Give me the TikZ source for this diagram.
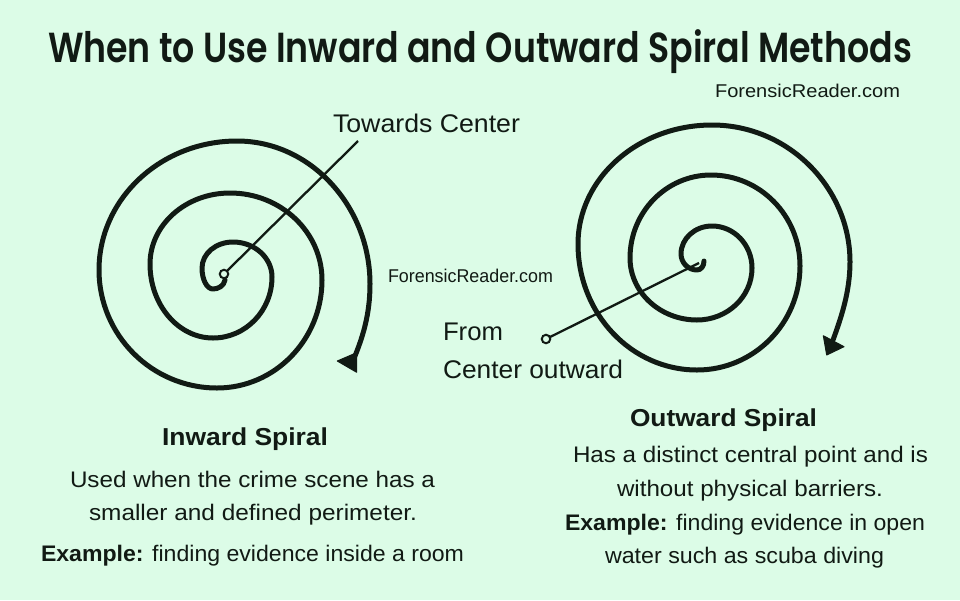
\documentclass[tikz,border=0pt]{standalone}
\usepackage{fontspec}
\usepackage{graphicx}
\setmainfont{Liberation Sans}
\newfontfamily\titlefont{Poppins SemiBold}
\definecolor{bg}{HTML}{DCFCE7}
\definecolor{ink}{HTML}{111A14}
\newcommand\wfit[2]{\resizebox{#1pt}{\height}{#2}}
\tikzset{
  txt/.style={inner sep=0pt, outer sep=0pt, anchor=base west, text=ink},
  body/.style={txt, font=\fontsize{22.5}{27}\selectfont},
  head/.style={txt, font=\bfseries\fontsize{24.5}{29}\selectfont},
  lab/.style={txt, font=\fontsize{25.5}{30}\selectfont},
  wmark/.style={txt, font=\fontsize{18.5}{22}\selectfont},
  spiralline/.style={draw=ink, line width=5pt, line cap=round, line join=round},
  pointer/.style={draw=ink, line width=2.3pt},
  ring/.style={circle, draw=ink, line width=2pt, fill=bg, minimum size=8.5pt, inner sep=0pt},
  tip/.style={fill=ink, draw=ink, line width=1pt, line join=round}
}
\begin{document}
\begin{tikzpicture}[x=1pt, y=-1pt]
\fill[bg] (0,0) rectangle (960,600);
\useasboundingbox (0,0) rectangle (960,600);

% title and watermarks
\node[txt, font=\titlefont\fontsize{42}{50}\selectfont] (title) at (48,62)
  {\wfit{864}{When to Use Inward and Outward Spiral Methods}};
\node[wmark] (wm1) at (715,97) {\wfit{185}{ForensicReader.com}};
\node[wmark] (wm2) at (388,282.3) {\wfit{165}{ForensicReader.com}};

% left spiral (inward)
\draw[spiralline] (225,280)
  .. controls +(-1,6) and +(5,0) .. (213,289)
  .. controls +(-6.1,0) and +(0,11.6) .. (202,268)
  .. controls +(0,-14.4) and +(-17.1,0) .. (233,242)
  .. controls +(21.5,0) and +(0,-19.3) .. (272,277)
  .. controls +(0,33.7) and +(32.6,0) .. (213,338)
  .. controls +(-34.8,0) and +(0,40.8) .. (150,264)
  .. controls +(0,-39.2) and +(-44.2,0) .. (230,193)
  .. controls +(50.8,0) and +(0,-48) .. (322,280)
  .. controls +(0,59.6) and +(58,0) .. (217,388)
  .. controls +(-65.1,0) and +(0,65.1) .. (99,270)
  .. controls +(0,-71.2) and +(-76.2,0) .. (237,141)
  .. controls +(73.4,0) and +(0,-77.8) .. (370,284)
  .. controls +(0,30) and +(8,-20) .. (355,356);
\fill[tip] (337.3,361) -- (356.7,352.7) -- (356.7,372.3) -- cycle;

% right spiral (outward)
\draw[spiralline] (704,261)
  .. controls +(0,5) and +(4,0) .. (697,270)
  .. controls +(-8.8,0) and +(0,8.8) .. (681,254)
  .. controls +(0,-15.5) and +(-17.1,0) .. (712,226)
  .. controls +(22.1,0) and +(0,-23.2) .. (752,268)
  .. controls +(0,28.7) and +(30.4,0) .. (697,320)
  .. controls +(-37,0) and +(0,34.2) .. (630,258)
  .. controls +(0,-45.8) and +(-44.7,0) .. (711,175)
  .. controls +(49.1,0) and +(0,-50.2) .. (800,266)
  .. controls +(0,57.4) and +(56.9,0) .. (697,370)
  .. controls +(-65.7,0) and +(0,69.6) .. (578,244)
  .. controls +(0,-65.7) and +(-74,0) .. (712,125)
  .. controls +(76.2,0) and +(0,-74.5) .. (850,262)
  .. controls +(0,30) and +(8,-22) .. (833,340);
\fill[tip] (823.3,335.7) -- (844,346.7) -- (826.7,355) -- cycle;

% labels
\node[lab] (towards) at (333,132) {\wfit{187}{Towards Center}};
\node[lab] (from) at (443,340.7) {\wfit{60}{From}};
\node[lab] (outw) at (443,378.3) {\wfit{180}{Center outward}};

% pointers
\coordinate (c1) at (224,274);
\coordinate (t1) at (358,141);
\draw[pointer] (c1) -- (t1);
\node[ring] (r1) at (c1) {};
\coordinate (c2) at (546,339);
\coordinate (t2) at (699,263);
\draw[pointer] (c2) -- (t2);
\node[ring] (r2) at (c2) {};

% left text
\node[head] (h1) at (162,445) {\wfit{166}{Inward Spiral}};
\node[body] (l1) at (70,487.3) {\wfit{365}{Used when the crime scene has a}};
\node[body] (l2) at (89,520) {\wfit{328}{smaller and defined perimeter.}};
\node[body] (l3) at (41,561.7) {\wfit{423}{\textbf{Example:} finding evidence inside a room}};

% right text
\node[head] (h2) at (630,426.7) {\wfit{187}{Outward Spiral}};
\node[body] (r1t) at (573,462.7) {\wfit{355}{Has a distinct central point and is}};
\node[body] (r2t) at (617,496.7) {\wfit{266}{without physical barriers.}};
\node[body] (r3t) at (565,530.7) {\wfit{360}{\textbf{Example:} finding evidence in open}};
\node[body] (r4t) at (605,563.3) {\wfit{279}{water such as scuba diving}};
\end{tikzpicture}
\end{document}
